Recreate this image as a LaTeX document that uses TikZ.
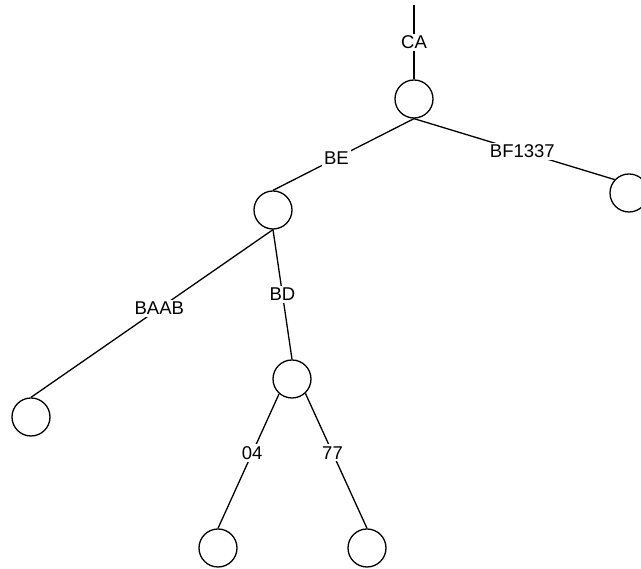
\documentclass[tikz,border=0pt]{standalone}
\usepackage{fontspec}
\setmainfont{Liberation Sans}
\begin{document}
\begin{tikzpicture}[x=1pt,y=1pt,
  vert/.style={circle,draw,line width=1.3pt,minimum size=38pt,inner sep=0pt},
  edge/.style={line width=1.3pt},
  lab/.style={fill=white,inner sep=2pt,font=\fontsize{18.5}{22}\selectfont}]
\useasboundingbox (0,0) rectangle (641,569);
\coordinate (top) at (414,564);
\node[vert] (root) at (414,470) {};
\node[vert] (be) at (273,359) {};
\node[vert] (bf) at (629,376) {};
\node[vert] (baab) at (31,152) {};
\node[vert] (bd) at (292,190) {};
\node[vert] (n04) at (218,21) {};
\node[vert] (n77) at (367,21) {};
\draw[edge] (top) -- node[lab] {CA} (root.north);
\draw[edge] (root.south) -- node[lab,pos=0.55] {BE} (be.north);
\draw[edge] (root.south) -- node[lab,pos=0.54] {BF1337} (bf.137);
\draw[edge] (be.south) -- node[lab,pos=0.47] {BAAB} (baab.north);
\draw[edge] (be.south) -- node[lab,pos=0.5] {BD} (bd.north);
\draw[edge] (bd.229) -- node[lab,pos=0.44] {04} (n04.north);
\draw[edge] (bd.313) -- node[lab,pos=0.44] {77} (n77.north);
\end{tikzpicture}
\end{document}
